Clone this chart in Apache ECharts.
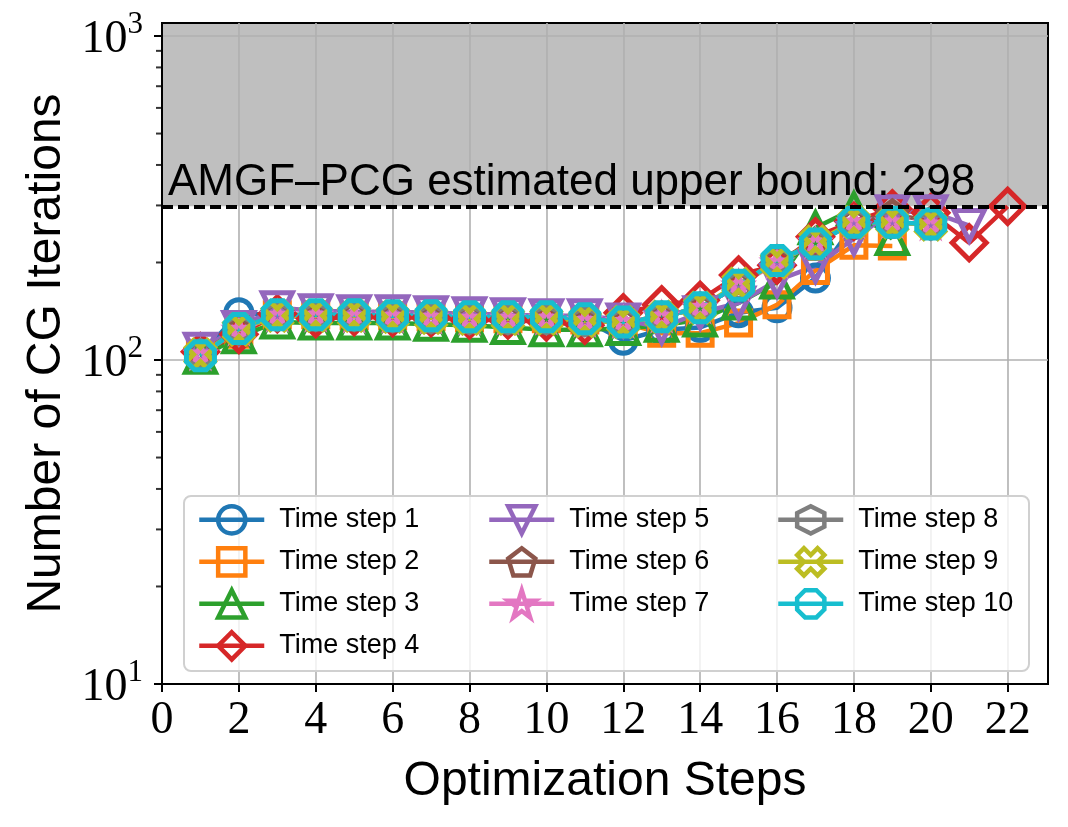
<!DOCTYPE html>
<html>
<head>
<meta charset="utf-8">
<script src="https://cdn.jsdelivr.net/npm/echarts@6/dist/echarts.min.js"></script>
<style>
  html, body { margin: 0; padding: 0; background: #fff; }
  #chart { width: 1068px; height: 827px; }
</style>
</head>
<body>
<div id="chart"></div>
<script>
// values (CG iterations per optimization step)
const steps = [1, 2, 3, 4, 5, 6, 7, 8, 9, 10, 11, 12, 13, 14, 15, 16, 17, 18, 19, 20, 21, 22];
const xTicks = [0, 2, 4, 6, 8, 10, 12, 14, 16, 18, 20, 22];
const yTicks = [10, 100, 1000];
const yMinor = [20, 30, 40, 50, 60, 70, 80, 90, 200, 300, 400, 500, 600, 700, 800, 900];
const upperBound = 298;

const ts1  = [103, 140, 137, 136, 136, 136, 135, 134, 134, 134, 133, 115, 124, 126, 140, 145, 179, 262, 264];
const ts2  = [104, 120, 138, 138, 137, 137, 136, 135, 134, 134, 133, 130, 121, 121, 130, 148, 189, 226, 225];
const ts3  = [102, 118, 131, 130, 130, 130, 129, 128, 126, 124, 124, 125, 128, 133, 150, 174, 256, 293, 237];
const ts4  = [106, 120, 139, 134, 136, 135, 135, 133, 133, 131, 128, 140, 148, 153, 183, 196, 240, 268, 293, 285, 230, 298];
const ts5  = [108, 126, 145, 142, 141, 141, 140, 139, 138, 137, 137, 133, 126, 140, 150, 176, 195, 237, 287, 287, 260];
const ts6  = [105, 124, 138, 137, 137, 136, 135, 135, 134, 134, 132, 131, 136, 145, 170, 203, 230, 266, 282, 268];
const ts7  = [104, 124, 137, 137, 136, 136, 135, 134, 134, 134, 132, 131, 136, 145, 170, 200, 230, 266, 266, 262];
const ts8  = [104, 125, 137, 137, 137, 136, 135, 134, 134, 134, 132, 131, 136, 145, 170, 203, 228, 266, 266, 262];
const ts9  = [104, 124, 137, 137, 137, 136, 135, 134, 134, 134, 132, 131, 136, 145, 172, 200, 232, 266, 266, 262];
const ts10 = [103, 125, 138, 138, 138, 137, 137, 136, 136, 136, 134, 131, 136, 145, 170, 203, 228, 266, 266, 263];

const names = ['Time step 1', 'Time step 2', 'Time step 3', 'Time step 4', 'Time step 5',
               'Time step 6', 'Time step 7', 'Time step 8', 'Time step 9', 'Time step 10'];
const values = [ts1, ts2, ts3, ts4, ts5, ts6, ts7, ts8, ts9, ts10];

// matplotlib tab10
const colors = ['#1f77b4', '#ff7f0e', '#2ca02c', '#d62728', '#9467bd',
                '#8c564b', '#e377c2', '#7f7f7f', '#bcbd22', '#17becf'];

// marker shapes: o s ^ D v p * h X 8
const markers = [
    'circle',
    'rect',
    'triangle',
    'diamond',
    'path://M-1,-1L1,-1L0,1Z',
    'path://M0,-1L0.951,-0.309L0.588,0.809L-0.588,0.809L-0.951,-0.309Z',
    'path://M0,-1L0.2245,-0.309L0.951,-0.309L0.363,0.118L0.588,0.809L0,0.382L-0.588,0.809L-0.363,0.118L-0.951,-0.309L-0.2245,-0.309Z',
    'path://M0,-1L0.866,-0.5L0.866,0.5L0,1L-0.866,0.5L-0.866,-0.5Z',
    'path://M-1,-0.5L-0.5,-1L0,-0.5L0.5,-1L1,-0.5L0.5,0L1,0.5L0.5,1L0,0.5L-0.5,1L-1,0.5L-0.5,0Z',
    'path://M0.924,0.383L0.383,0.924L-0.383,0.924L-0.924,0.383L-0.924,-0.383L-0.383,-0.924L0.383,-0.924L0.924,-0.383Z'
];
const markerSizes = [26, 24, 30, 34, 30, 28, 22, 28, 28, 28];

const sans = 'Liberation Sans';
const serif = 'Liberation Serif';

const lineSeries = values.map((vals, i) => ({
    name: names[i],
    type: 'line',
    data: vals.map((v, k) => [steps[k], v]),
    symbol: markers[i],
    symbolSize: markerSizes[i],
    symbolKeepAspect: true,
    showAllSymbol: true,
    lineStyle: { color: colors[i], width: 4.5 },
    itemStyle: { color: 'rgba(0,0,0,0)', borderColor: colors[i], borderWidth: 5 },
    emphasis: { disabled: true },
    animation: false
}));

const legendBase = {
    orient: 'vertical',
    top: 499,
    itemWidth: 65,
    itemHeight: 34,
    itemGap: 10.3,
    selectedMode: false,
    itemStyle: { borderWidth: 4.5 },
    lineStyle: { width: 4.5 },
    textStyle: { fontFamily: sans, fontSize: 27, color: '#000', padding: [0, 0, 0, 10] }
};

const chart = echarts.init(document.getElementById('chart'));
chart.setOption({
    backgroundColor: '#fff',
    animation: false,
    grid: { left: 162, right: 20, top: 23, bottom: 143, show: true, borderColor: '#000', borderWidth: 2 },
    legend: [
        { ...legendBase, left: 192, data: names.slice(0, 4) },
        { ...legendBase, left: 482, data: names.slice(4, 7) },
        { ...legendBase, left: 771, data: names.slice(7, 10) }
    ],
    graphic: [{
        type: 'rect', left: 183, top: 495, z: 3,
        shape: { width: 845, height: 175, r: 7 },
        style: { fill: 'rgba(255,255,255,0.8)', stroke: '#d0d0d0', lineWidth: 2 }
    }],
    xAxis: {
        type: 'value', min: 0, max: 23.05, interval: 2,
        name: 'Optimization Steps', nameLocation: 'middle', nameGap: 74,
        nameTextStyle: { fontFamily: sans, fontSize: 48, color: '#000' },
        axisLine: { lineStyle: { color: '#000', width: 2 } },
        axisTick: { customValues: xTicks, length: 8, lineStyle: { color: '#000', width: 2 } },
        axisLabel: { customValues: xTicks, margin: 14, fontFamily: serif, fontSize: 46, color: '#000' },
        splitLine: { show: true, lineStyle: { color: '#b0b0b0', width: 1.6 } }
    },
    yAxis: {
        type: 'log', logBase: 10, min: 10, max: 1097,
        name: 'Number of CG Iterations', nameLocation: 'middle', nameGap: 84,
        nameTextStyle: { fontFamily: sans, fontSize: 48, color: '#000' },
        axisLine: { lineStyle: { color: '#000', width: 2 } },
        axisTick: { customValues: yTicks, length: 8, lineStyle: { color: '#000', width: 2 } },
        axisLabel: {
            customValues: yTicks, margin: 19,
            formatter: v => '{b|10}{s|' + Math.round(Math.log10(v)) + '}',
            rich: {
                b: { fontFamily: serif, fontSize: 46, color: '#000', verticalAlign: 'bottom' },
                s: { fontFamily: serif, fontSize: 31, color: '#000', verticalAlign: 'bottom', padding: [0, 0, 22, 0] }
            }
        },
        splitLine: { show: true, lineStyle: { color: '#b0b0b0', width: 1.6 } }
    },
    series: [
        {
            name: 'bound',
            type: 'line',
            data: [],
            markArea: {
                silent: true, z: -1,
                itemStyle: { color: '#bfbfbf' },
                data: [[{ yAxis: upperBound }, { yAxis: 1097 }]]
            },
            markLine: {
                silent: true, symbol: 'none', z: 5,
                lineStyle: { color: '#000', width: 4, type: [11, 5] },
                label: {
                    position: 'insideStartTop', distance: [6, 2],
                    formatter: 'AMGF\u2013PCG estimated upper bound: ' + upperBound,
                    fontFamily: sans, fontSize: 44, color: '#000'
                },
                data: [{ yAxis: upperBound }]
            }
        },
        {
            name: 'minor',
            type: 'scatter',
            data: yMinor.map(v => [0, v]),
            symbol: 'rect',
            symbolSize: [6, 2],
            symbolOffset: [-3, 0],
            itemStyle: { color: '#000' },
            clip: false,
            silent: true,
            z: 6
        },
        ...lineSeries
    ]
});
</script>
</body>
</html>
